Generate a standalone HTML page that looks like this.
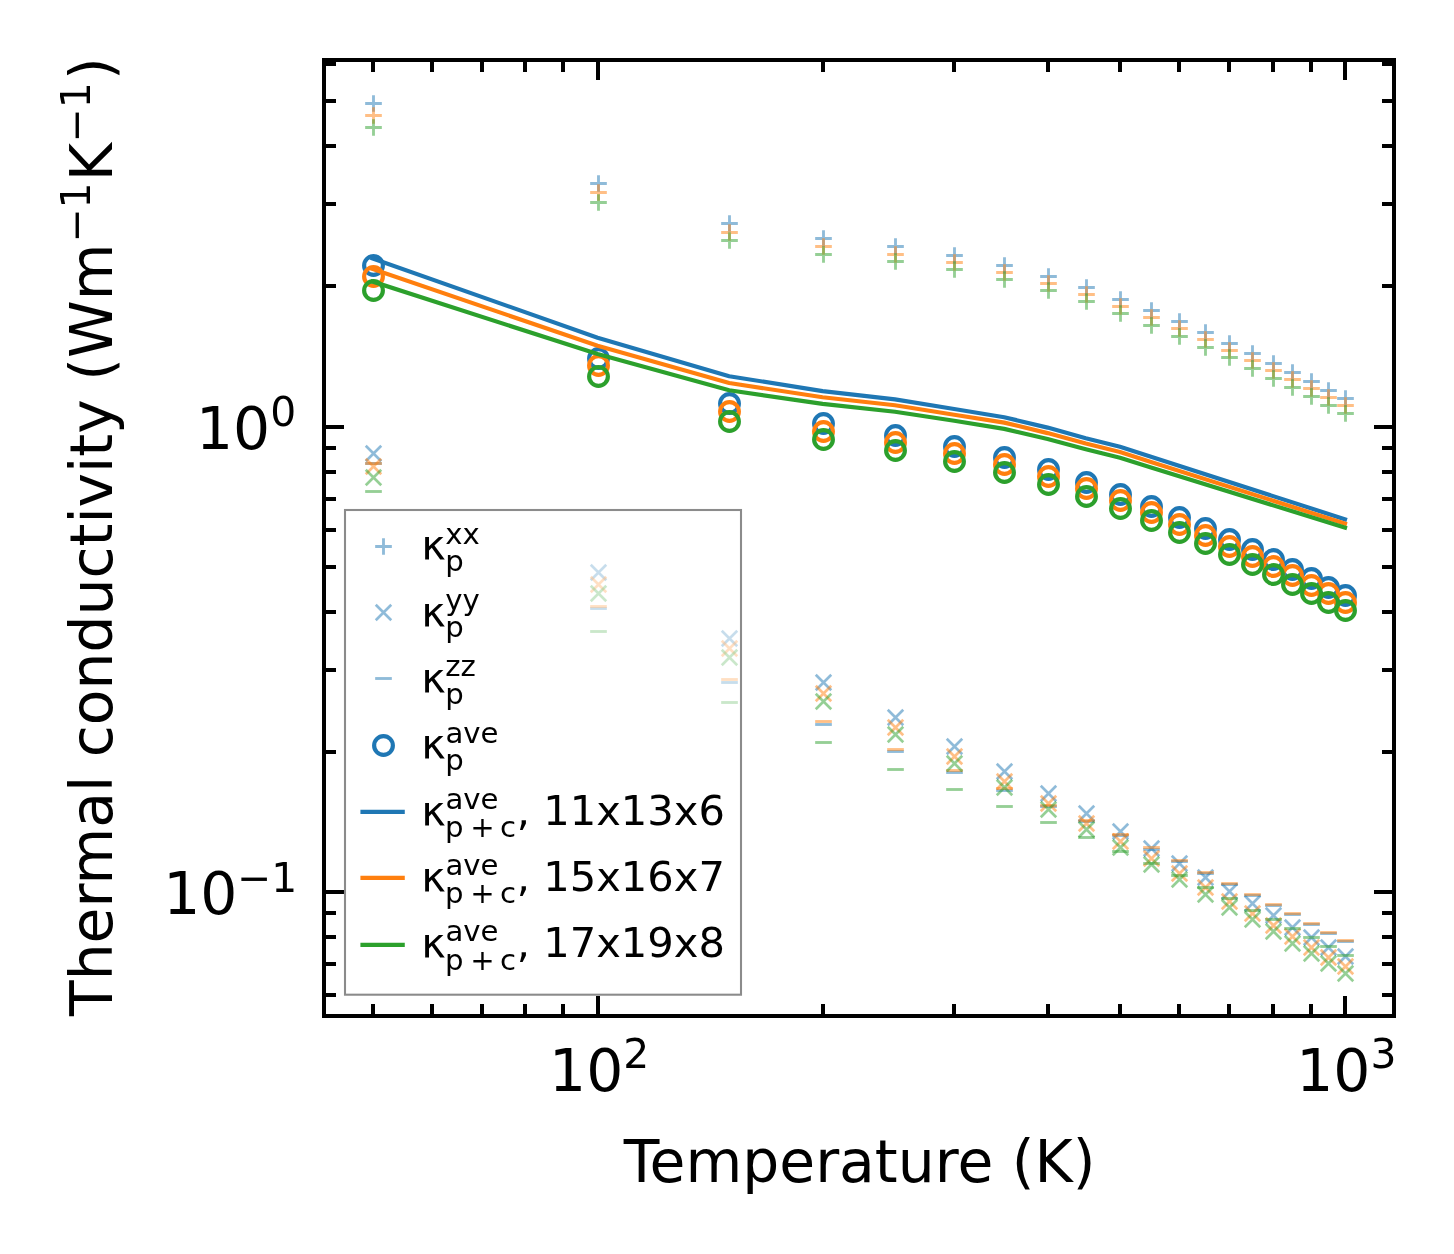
<!DOCTYPE html>
<html lang="en"><head><meta charset="utf-8"><title>Thermal conductivity</title>
<style>html,body{margin:0;padding:0;background:#fff}svg{display:block}text{font-family:"DejaVu Sans","Liberation Sans",sans-serif;fill:#000}</style></head><body>
<svg width="1454" height="1254" viewBox="0 0 1454 1254">
<rect width="1454" height="1254" fill="#fff"/>
<defs>
<path id="mp" d="M-8.33,0H8.33M0,-8.33V8.33"/>
<path id="mx" d="M-7.75,-7.75L7.75,7.75M-7.75,7.75L7.75,-7.75"/>
<path id="md" d="M-8.33,0H8.33"/>
<circle id="mc" r="9.375"/>
</defs>
<g stroke="#1f77b4" fill="none">
<g stroke-opacity=".5" stroke-width="2.85">
<use href="#mp" x="373.5" y="103.5"/>
<use href="#mp" x="598.5" y="183.5"/>
<use href="#mp" x="729.5" y="223.5"/>
<use href="#mp" x="823.5" y="238.5"/>
<use href="#mp" x="895.5" y="246.5"/>
<use href="#mp" x="954.5" y="255.5"/>
<use href="#mp" x="1004.5" y="265.5"/>
<use href="#mp" x="1048.5" y="276.5"/>
<use href="#mp" x="1086.5" y="287.5"/>
<use href="#mp" x="1120.5" y="299.5"/>
<use href="#mp" x="1151.5" y="310.5"/>
<use href="#mp" x="1179.5" y="321.5"/>
<use href="#mp" x="1205.5" y="332.5"/>
<use href="#mp" x="1229.5" y="343.5"/>
<use href="#mp" x="1252.5" y="353.5"/>
<use href="#mp" x="1273.5" y="363.5"/>
<use href="#mp" x="1292.5" y="372.5"/>
<use href="#mp" x="1311.5" y="381.5"/>
<use href="#mp" x="1328.5" y="390.5"/>
<use href="#mp" x="1345.5" y="398.5"/>
<use href="#mx" x="373.5" y="453.5" stroke-width="2.7"/>
<use href="#mx" x="598.5" y="572.5" stroke-width="2.7"/>
<use href="#mx" x="729.5" y="638.5" stroke-width="2.7"/>
<use href="#mx" x="823.5" y="682.5" stroke-width="2.7"/>
<use href="#mx" x="895.5" y="717.5" stroke-width="2.7"/>
<use href="#mx" x="954.5" y="746.5" stroke-width="2.7"/>
<use href="#mx" x="1004.5" y="771.5" stroke-width="2.7"/>
<use href="#mx" x="1048.5" y="793.5" stroke-width="2.7"/>
<use href="#mx" x="1086.5" y="813.5" stroke-width="2.7"/>
<use href="#mx" x="1120.5" y="831.5" stroke-width="2.7"/>
<use href="#mx" x="1151.5" y="848.5" stroke-width="2.7"/>
<use href="#mx" x="1179.5" y="863.5" stroke-width="2.7"/>
<use href="#mx" x="1205.5" y="877.5" stroke-width="2.7"/>
<use href="#mx" x="1229.5" y="891.5" stroke-width="2.7"/>
<use href="#mx" x="1252.5" y="903.5" stroke-width="2.7"/>
<use href="#mx" x="1273.5" y="915.5" stroke-width="2.7"/>
<use href="#mx" x="1292.5" y="927.5" stroke-width="2.7"/>
<use href="#mx" x="1311.5" y="937.5" stroke-width="2.7"/>
<use href="#mx" x="1328.5" y="947.5" stroke-width="2.7"/>
<use href="#mx" x="1345.5" y="956.5" stroke-width="2.7"/>
<use href="#md" x="373.5" y="463.5"/>
<use href="#md" x="598.5" y="608.5"/>
<use href="#md" x="729.5" y="682.5"/>
<use href="#md" x="823.5" y="724.5"/>
<use href="#md" x="895.5" y="751.5"/>
<use href="#md" x="954.5" y="772.5"/>
<use href="#md" x="1004.5" y="790.5"/>
<use href="#md" x="1048.5" y="806.5"/>
<use href="#md" x="1086.5" y="821.5"/>
<use href="#md" x="1120.5" y="835.5"/>
<use href="#md" x="1151.5" y="849.5"/>
<use href="#md" x="1179.5" y="861.5"/>
<use href="#md" x="1205.5" y="873.5"/>
<use href="#md" x="1229.5" y="884.5"/>
<use href="#md" x="1252.5" y="895.5"/>
<use href="#md" x="1273.5" y="905.5"/>
<use href="#md" x="1292.5" y="914.5"/>
<use href="#md" x="1311.5" y="924.5"/>
<use href="#md" x="1328.5" y="933.5"/>
<use href="#md" x="1345.5" y="941.5"/>
</g>
<g stroke-width="4.17">
<use href="#mc" x="373.5" y="265.5"/>
<use href="#mc" x="598.5" y="358.5"/>
<use href="#mc" x="729.5" y="403.5"/>
<use href="#mc" x="823.5" y="423.5"/>
<use href="#mc" x="895.5" y="435.5"/>
<use href="#mc" x="954.5" y="446.5"/>
<use href="#mc" x="1004.5" y="457.5"/>
<use href="#mc" x="1048.5" y="469.5"/>
<use href="#mc" x="1086.5" y="482.5"/>
<use href="#mc" x="1120.5" y="494.5"/>
<use href="#mc" x="1151.5" y="506.5"/>
<use href="#mc" x="1179.5" y="517.5"/>
<use href="#mc" x="1205.5" y="528.5"/>
<use href="#mc" x="1229.5" y="539.5"/>
<use href="#mc" x="1252.5" y="549.5"/>
<use href="#mc" x="1273.5" y="559.5"/>
<use href="#mc" x="1292.5" y="569.5"/>
<use href="#mc" x="1311.5" y="578.5"/>
<use href="#mc" x="1328.5" y="587.5"/>
<use href="#mc" x="1345.5" y="595.5"/>
<polyline points="372.6,258.5 597.6,337.7 729.2,376.2 822.6,391.1 895.0,399.4 954.2,409.0 1004.2,417.2 1047.6,427.6 1085.8,438.2 1120.0,446.8 1151.0,456.7 1345.0,519.3" stroke-linecap="square" stroke-linejoin="round"/>
</g></g>
<g stroke="#ff7f0e" fill="none">
<g stroke-opacity=".5" stroke-width="2.85">
<use href="#mp" x="373.5" y="115.5"/>
<use href="#mp" x="598.5" y="192.5"/>
<use href="#mp" x="729.5" y="232.5"/>
<use href="#mp" x="823.5" y="246.5"/>
<use href="#mp" x="895.5" y="254.5"/>
<use href="#mp" x="954.5" y="262.5"/>
<use href="#mp" x="1004.5" y="272.5"/>
<use href="#mp" x="1048.5" y="283.5"/>
<use href="#mp" x="1086.5" y="294.5"/>
<use href="#mp" x="1120.5" y="306.5"/>
<use href="#mp" x="1151.5" y="317.5"/>
<use href="#mp" x="1179.5" y="328.5"/>
<use href="#mp" x="1205.5" y="339.5"/>
<use href="#mp" x="1229.5" y="350.5"/>
<use href="#mp" x="1252.5" y="360.5"/>
<use href="#mp" x="1273.5" y="370.5"/>
<use href="#mp" x="1292.5" y="379.5"/>
<use href="#mp" x="1311.5" y="388.5"/>
<use href="#mp" x="1328.5" y="397.5"/>
<use href="#mp" x="1345.5" y="405.5"/>
<use href="#mx" x="373.5" y="466.5" stroke-width="2.7"/>
<use href="#mx" x="598.5" y="584.5" stroke-width="2.7"/>
<use href="#mx" x="729.5" y="648.5" stroke-width="2.7"/>
<use href="#mx" x="823.5" y="693.5" stroke-width="2.7"/>
<use href="#mx" x="895.5" y="727.5" stroke-width="2.7"/>
<use href="#mx" x="954.5" y="756.5" stroke-width="2.7"/>
<use href="#mx" x="1004.5" y="781.5" stroke-width="2.7"/>
<use href="#mx" x="1048.5" y="803.5" stroke-width="2.7"/>
<use href="#mx" x="1086.5" y="823.5" stroke-width="2.7"/>
<use href="#mx" x="1120.5" y="841.5" stroke-width="2.7"/>
<use href="#mx" x="1151.5" y="858.5" stroke-width="2.7"/>
<use href="#mx" x="1179.5" y="873.5" stroke-width="2.7"/>
<use href="#mx" x="1205.5" y="887.5" stroke-width="2.7"/>
<use href="#mx" x="1229.5" y="901.5" stroke-width="2.7"/>
<use href="#mx" x="1252.5" y="913.5" stroke-width="2.7"/>
<use href="#mx" x="1273.5" y="925.5" stroke-width="2.7"/>
<use href="#mx" x="1292.5" y="936.5" stroke-width="2.7"/>
<use href="#mx" x="1311.5" y="947.5" stroke-width="2.7"/>
<use href="#mx" x="1328.5" y="957.5" stroke-width="2.7"/>
<use href="#mx" x="1345.5" y="966.5" stroke-width="2.7"/>
<use href="#md" x="373.5" y="463.5"/>
<use href="#md" x="598.5" y="606.5"/>
<use href="#md" x="729.5" y="679.5"/>
<use href="#md" x="823.5" y="721.5"/>
<use href="#md" x="895.5" y="749.5"/>
<use href="#md" x="954.5" y="770.5"/>
<use href="#md" x="1004.5" y="788.5"/>
<use href="#md" x="1048.5" y="805.5"/>
<use href="#md" x="1086.5" y="820.5"/>
<use href="#md" x="1120.5" y="834.5"/>
<use href="#md" x="1151.5" y="847.5"/>
<use href="#md" x="1179.5" y="860.5"/>
<use href="#md" x="1205.5" y="872.5"/>
<use href="#md" x="1229.5" y="883.5"/>
<use href="#md" x="1252.5" y="894.5"/>
<use href="#md" x="1273.5" y="904.5"/>
<use href="#md" x="1292.5" y="913.5"/>
<use href="#md" x="1311.5" y="923.5"/>
<use href="#md" x="1328.5" y="932.5"/>
<use href="#md" x="1345.5" y="940.5"/>
</g>
<g stroke-width="4.17">
<use href="#mc" x="373.5" y="276.5"/>
<use href="#mc" x="598.5" y="365.5"/>
<use href="#mc" x="729.5" y="411.5"/>
<use href="#mc" x="823.5" y="431.5"/>
<use href="#mc" x="895.5" y="442.5"/>
<use href="#mc" x="954.5" y="453.5"/>
<use href="#mc" x="1004.5" y="464.5"/>
<use href="#mc" x="1048.5" y="476.5"/>
<use href="#mc" x="1086.5" y="488.5"/>
<use href="#mc" x="1120.5" y="500.5"/>
<use href="#mc" x="1151.5" y="512.5"/>
<use href="#mc" x="1179.5" y="524.5"/>
<use href="#mc" x="1205.5" y="535.5"/>
<use href="#mc" x="1229.5" y="546.5"/>
<use href="#mc" x="1252.5" y="556.5"/>
<use href="#mc" x="1273.5" y="566.5"/>
<use href="#mc" x="1292.5" y="575.5"/>
<use href="#mc" x="1311.5" y="585.5"/>
<use href="#mc" x="1328.5" y="593.5"/>
<use href="#mc" x="1345.5" y="602.5"/>
<polyline points="372.6,268.9 597.6,345.8 729.2,383.0 822.6,397.2 895.0,405.3 954.2,414.8 1004.2,422.6 1047.6,433.1 1085.8,443.6 1120.0,452.1 1151.0,461.9 1345.0,523.6" stroke-linecap="square" stroke-linejoin="round"/>
</g></g>
<g stroke="#2ca02c" fill="none">
<g stroke-opacity=".5" stroke-width="2.85">
<use href="#mp" x="373.5" y="127.5"/>
<use href="#mp" x="598.5" y="202.5"/>
<use href="#mp" x="729.5" y="240.5"/>
<use href="#mp" x="823.5" y="254.5"/>
<use href="#mp" x="895.5" y="261.5"/>
<use href="#mp" x="954.5" y="269.5"/>
<use href="#mp" x="1004.5" y="279.5"/>
<use href="#mp" x="1048.5" y="290.5"/>
<use href="#mp" x="1086.5" y="301.5"/>
<use href="#mp" x="1120.5" y="313.5"/>
<use href="#mp" x="1151.5" y="325.5"/>
<use href="#mp" x="1179.5" y="336.5"/>
<use href="#mp" x="1205.5" y="347.5"/>
<use href="#mp" x="1229.5" y="357.5"/>
<use href="#mp" x="1252.5" y="368.5"/>
<use href="#mp" x="1273.5" y="378.5"/>
<use href="#mp" x="1292.5" y="387.5"/>
<use href="#mp" x="1311.5" y="396.5"/>
<use href="#mp" x="1328.5" y="405.5"/>
<use href="#mp" x="1345.5" y="413.5"/>
<use href="#mx" x="373.5" y="477.5" stroke-width="2.7"/>
<use href="#mx" x="598.5" y="593.5" stroke-width="2.7"/>
<use href="#mx" x="729.5" y="657.5" stroke-width="2.7"/>
<use href="#mx" x="823.5" y="701.5" stroke-width="2.7"/>
<use href="#mx" x="895.5" y="734.5" stroke-width="2.7"/>
<use href="#mx" x="954.5" y="763.5" stroke-width="2.7"/>
<use href="#mx" x="1004.5" y="787.5" stroke-width="2.7"/>
<use href="#mx" x="1048.5" y="809.5" stroke-width="2.7"/>
<use href="#mx" x="1086.5" y="829.5" stroke-width="2.7"/>
<use href="#mx" x="1120.5" y="847.5" stroke-width="2.7"/>
<use href="#mx" x="1151.5" y="864.5" stroke-width="2.7"/>
<use href="#mx" x="1179.5" y="879.5" stroke-width="2.7"/>
<use href="#mx" x="1205.5" y="894.5" stroke-width="2.7"/>
<use href="#mx" x="1229.5" y="907.5" stroke-width="2.7"/>
<use href="#mx" x="1252.5" y="919.5" stroke-width="2.7"/>
<use href="#mx" x="1273.5" y="931.5" stroke-width="2.7"/>
<use href="#mx" x="1292.5" y="943.5" stroke-width="2.7"/>
<use href="#mx" x="1311.5" y="953.5" stroke-width="2.7"/>
<use href="#mx" x="1328.5" y="963.5" stroke-width="2.7"/>
<use href="#mx" x="1345.5" y="973.5" stroke-width="2.7"/>
<use href="#md" x="373.5" y="491.5"/>
<use href="#md" x="598.5" y="631.5"/>
<use href="#md" x="729.5" y="702.5"/>
<use href="#md" x="823.5" y="742.5"/>
<use href="#md" x="895.5" y="769.5"/>
<use href="#md" x="954.5" y="789.5"/>
<use href="#md" x="1004.5" y="806.5"/>
<use href="#md" x="1048.5" y="822.5"/>
<use href="#md" x="1086.5" y="837.5"/>
<use href="#md" x="1120.5" y="851.5"/>
<use href="#md" x="1151.5" y="863.5"/>
<use href="#md" x="1179.5" y="875.5"/>
<use href="#md" x="1205.5" y="887.5"/>
<use href="#md" x="1229.5" y="898.5"/>
<use href="#md" x="1252.5" y="910.5"/>
<use href="#md" x="1273.5" y="919.5"/>
<use href="#md" x="1292.5" y="928.5"/>
<use href="#md" x="1311.5" y="937.5"/>
<use href="#md" x="1328.5" y="946.5"/>
<use href="#md" x="1345.5" y="955.5"/>
</g>
<g stroke-width="4.17">
<use href="#mc" x="373.5" y="290.5"/>
<use href="#mc" x="598.5" y="376.5"/>
<use href="#mc" x="729.5" y="421.5"/>
<use href="#mc" x="823.5" y="439.5"/>
<use href="#mc" x="895.5" y="450.5"/>
<use href="#mc" x="954.5" y="461.5"/>
<use href="#mc" x="1004.5" y="472.5"/>
<use href="#mc" x="1048.5" y="484.5"/>
<use href="#mc" x="1086.5" y="496.5"/>
<use href="#mc" x="1120.5" y="508.5"/>
<use href="#mc" x="1151.5" y="520.5"/>
<use href="#mc" x="1179.5" y="532.5"/>
<use href="#mc" x="1205.5" y="543.5"/>
<use href="#mc" x="1229.5" y="554.5"/>
<use href="#mc" x="1252.5" y="564.5"/>
<use href="#mc" x="1273.5" y="574.5"/>
<use href="#mc" x="1292.5" y="584.5"/>
<use href="#mc" x="1311.5" y="593.5"/>
<use href="#mc" x="1328.5" y="602.5"/>
<use href="#mc" x="1345.5" y="610.5"/>
<polyline points="372.6,281.6 597.6,354.1 729.2,390.3 822.6,403.9 895.0,411.7 954.2,420.8 1004.2,428.9 1047.6,439.0 1085.8,449.3 1120.0,457.8 1151.0,467.4 1345.0,527.6" stroke-linecap="square" stroke-linejoin="round"/>
</g></g>
<g fill="#000" shape-rendering="crispEdges">
<rect x="322" y="58" width="4" height="960"/>
<rect x="1392" y="58" width="4" height="960"/>
<rect x="322" y="58" width="1074" height="4"/>
<rect x="322" y="1014" width="1074" height="4"/>
<rect x="596" y="60" width="4" height="20"/>
<rect x="596" y="996" width="4" height="20"/>
<rect x="1343" y="60" width="4" height="20"/>
<rect x="1343" y="996" width="4" height="20"/>
<rect x="371" y="60" width="4" height="12"/>
<rect x="371" y="1004" width="4" height="12"/>
<rect x="430" y="60" width="4" height="12"/>
<rect x="430" y="1004" width="4" height="12"/>
<rect x="480" y="60" width="4" height="12"/>
<rect x="480" y="1004" width="4" height="12"/>
<rect x="523" y="60" width="4" height="12"/>
<rect x="523" y="1004" width="4" height="12"/>
<rect x="561" y="60" width="4" height="12"/>
<rect x="561" y="1004" width="4" height="12"/>
<rect x="821" y="60" width="4" height="12"/>
<rect x="821" y="1004" width="4" height="12"/>
<rect x="952" y="60" width="4" height="12"/>
<rect x="952" y="1004" width="4" height="12"/>
<rect x="1046" y="60" width="4" height="12"/>
<rect x="1046" y="1004" width="4" height="12"/>
<rect x="1118" y="60" width="4" height="12"/>
<rect x="1118" y="1004" width="4" height="12"/>
<rect x="1177" y="60" width="4" height="12"/>
<rect x="1177" y="1004" width="4" height="12"/>
<rect x="1227" y="60" width="4" height="12"/>
<rect x="1227" y="1004" width="4" height="12"/>
<rect x="1271" y="60" width="4" height="12"/>
<rect x="1271" y="1004" width="4" height="12"/>
<rect x="1309" y="60" width="4" height="12"/>
<rect x="1309" y="1004" width="4" height="12"/>
<rect x="324" y="425" width="20" height="4"/>
<rect x="1374" y="425" width="20" height="4"/>
<rect x="324" y="890" width="20" height="4"/>
<rect x="1374" y="890" width="20" height="4"/>
<rect x="324" y="62" width="12" height="4"/>
<rect x="1382" y="62" width="12" height="4"/>
<rect x="324" y="99" width="12" height="4"/>
<rect x="1382" y="99" width="12" height="4"/>
<rect x="324" y="144" width="12" height="4"/>
<rect x="1382" y="144" width="12" height="4"/>
<rect x="324" y="202" width="12" height="4"/>
<rect x="1382" y="202" width="12" height="4"/>
<rect x="324" y="284" width="12" height="4"/>
<rect x="1382" y="284" width="12" height="4"/>
<rect x="324" y="446" width="12" height="4"/>
<rect x="1382" y="446" width="12" height="4"/>
<rect x="324" y="470" width="12" height="4"/>
<rect x="1382" y="470" width="12" height="4"/>
<rect x="324" y="497" width="12" height="4"/>
<rect x="1382" y="497" width="12" height="4"/>
<rect x="324" y="528" width="12" height="4"/>
<rect x="1382" y="528" width="12" height="4"/>
<rect x="324" y="565" width="12" height="4"/>
<rect x="1382" y="565" width="12" height="4"/>
<rect x="324" y="610" width="12" height="4"/>
<rect x="1382" y="610" width="12" height="4"/>
<rect x="324" y="668" width="12" height="4"/>
<rect x="1382" y="668" width="12" height="4"/>
<rect x="324" y="750" width="12" height="4"/>
<rect x="1382" y="750" width="12" height="4"/>
<rect x="324" y="911" width="12" height="4"/>
<rect x="1382" y="911" width="12" height="4"/>
<rect x="324" y="935" width="12" height="4"/>
<rect x="1382" y="935" width="12" height="4"/>
<rect x="324" y="962" width="12" height="4"/>
<rect x="1382" y="962" width="12" height="4"/>
<rect x="324" y="993" width="12" height="4"/>
<rect x="1382" y="993" width="12" height="4"/>
</g>
<rect x="345" y="510" width="396" height="484.7" fill="#fff" fill-opacity=".5" stroke="#8b8b8b" stroke-width="2.08"/>
<g fill="none" stroke="#1f77b4">
<g stroke-opacity=".5" stroke-width="2.85"><use href="#mp" x="383.5" y="546.5"/><use href="#mx" x="383.5" y="612.5" stroke-width="2.7"/><use href="#md" x="383.5" y="678.5"/></g>
<use href="#mc" x="383.5" y="745.5" stroke-width="4.17"/>
</g>
<line x1="362.5" x2="402.7" y1="811.9" y2="811.9" stroke="#1f77b4" stroke-width="4.17" stroke-linecap="square"/>
<line x1="362.5" x2="402.7" y1="877.8" y2="877.8" stroke="#ff7f0e" stroke-width="4.17" stroke-linecap="square"/>
<line x1="362.5" x2="402.7" y1="944.8" y2="944.8" stroke="#2ca02c" stroke-width="4.17" stroke-linecap="square"/>
<text font-size="41.67" y="559.3"><tspan x="421.2">κ</tspan><tspan font-size="29.17" x="445.2" y="543.8">xx</tspan><tspan font-size="29.17" x="445.2" y="571.0">p</tspan></text>
<text font-size="41.67" y="625.6"><tspan x="421.2">κ</tspan><tspan font-size="29.17" x="445.2" y="610.1">yy</tspan><tspan font-size="29.17" x="445.2" y="637.3">p</tspan></text>
<text font-size="41.67" y="691.9"><tspan x="421.2">κ</tspan><tspan font-size="29.17" x="445.2" y="676.4">zz</tspan><tspan font-size="29.17" x="445.2" y="703.6">p</tspan></text>
<text font-size="41.67" y="758.2"><tspan x="421.2">κ</tspan><tspan font-size="29.17" x="445.5" y="742.7">ave</tspan><tspan font-size="29.17" x="445.2" y="769.9">p</tspan></text>
<text font-size="41.67" y="824.5"><tspan x="421.2">κ</tspan><tspan font-size="29.17" x="445.5" y="808.8">ave</tspan><tspan font-size="29.17" x="444.9" y="836.9">p</tspan><tspan font-size="29.17" x="470.3" y="836.9">+</tspan><tspan font-size="29.17" x="500.1" y="836.9">c</tspan><tspan x="516.7" y="824.5">, 11x13x6</tspan></text>
<text font-size="41.67" y="890.8"><tspan x="421.2">κ</tspan><tspan font-size="29.17" x="445.5" y="875.1">ave</tspan><tspan font-size="29.17" x="444.9" y="903.2">p</tspan><tspan font-size="29.17" x="470.3" y="903.2">+</tspan><tspan font-size="29.17" x="500.1" y="903.2">c</tspan><tspan x="516.7" y="890.8">, 15x16x7</tspan></text>
<text font-size="41.67" y="957.1"><tspan x="421.2">κ</tspan><tspan font-size="29.17" x="445.5" y="941.4">ave</tspan><tspan font-size="29.17" x="444.9" y="969.5">p</tspan><tspan font-size="29.17" x="470.3" y="969.5">+</tspan><tspan font-size="29.17" x="500.1" y="969.5">c</tspan><tspan x="516.7" y="957.1">, 17x19x8</tspan></text>
<text font-size="58.33" x="549.1" y="1091.1">10<tspan font-size="40.83" dy="-23.3">2</tspan></text>
<text font-size="58.33" x="1296.2" y="1091.1">10<tspan font-size="40.83" dy="-23.3">3</tspan></text>
<text font-size="58.33" x="195.9" y="448.8">10<tspan font-size="40.83" dy="-22.8">0</tspan></text>
<text font-size="58.33" x="163.2" y="913.8">10<tspan font-size="40.83" dy="-22" dx="-0.5">−1</tspan></text>
<text font-size="58.33" x="859.7" y="1182.3" text-anchor="middle">Temperature (K)</text>
<text font-size="58.33" transform="translate(111.7,1016) rotate(-90)">Thermal conductivity (Wm<tspan font-size="40.83" dy="-21.9" dx="0.9">−1</tspan><tspan dy="21.9" dx="1.25">K</tspan><tspan font-size="40.83" dy="-21.9" dx="0.5">−1</tspan><tspan dy="21.9" dx="2.15">)</tspan></text>
</svg></body></html>
